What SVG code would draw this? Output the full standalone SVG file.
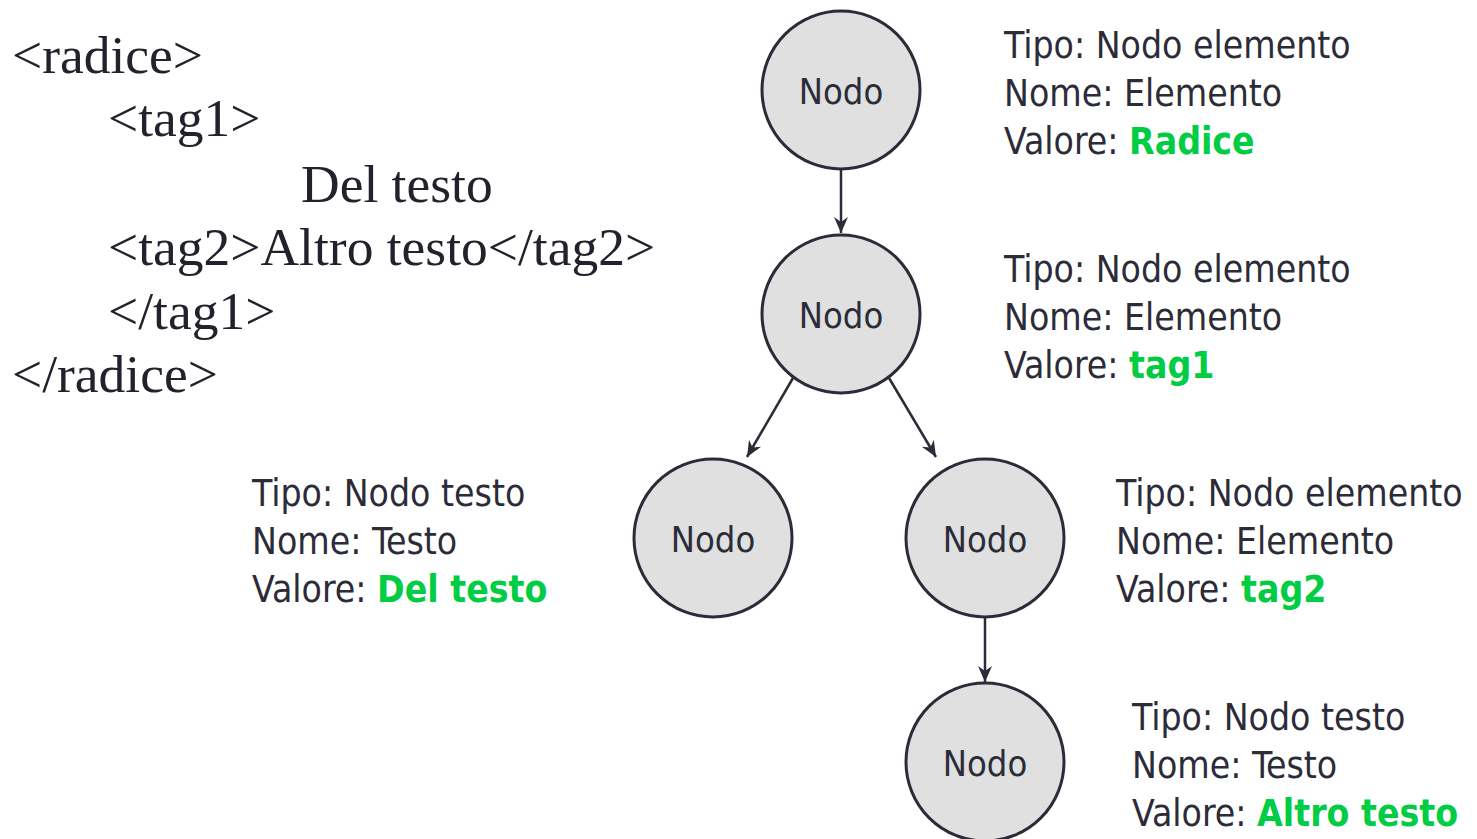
<svg xmlns="http://www.w3.org/2000/svg" width="1477" height="839" viewBox="0 0 1477 839">
  <defs>
    <marker id="arrow" viewBox="0 0 18 16" refX="17" refY="8" markerWidth="18" markerHeight="16" markerUnits="userSpaceOnUse" orient="auto">
      <path d="M1,1 L17,8 L1,15 L6,8 Z" fill="#2b2c38"/>
    </marker>
  </defs>
  <style>
    .code { font-family: "Liberation Serif", "Times New Roman", serif; font-size: 53.5px; fill: #22222c; }
    .node circle { fill: #e0e0e0; stroke: #2b2c38; stroke-width: 3; }
    .node text { font-family: "DejaVu Sans", Verdana, sans-serif; font-stretch: condensed; font-size: 36px; fill: #2b2c38; text-anchor: middle; }
    .info { font-family: "DejaVu Sans", Verdana, sans-serif; font-stretch: condensed; font-size: 37px; fill: #2b2c38; }
    .val { font-weight: bold; fill: #00cc44; }
    .edge { stroke: #2b2c38; stroke-width: 2.5; fill: none; marker-end: url(#arrow); }
  </style>
  <rect width="1477" height="839" fill="#ffffff"/>

  <!-- XML source -->
  <g id="source">
    <text class="code" x="12" y="73">&lt;radice&gt;</text>
    <text class="code" x="108" y="136">&lt;tag1&gt;</text>
    <text class="code" x="301" y="202">Del testo</text>
    <text class="code" x="108" y="265">&lt;tag2&gt;Altro testo&lt;/tag2&gt;</text>
    <text class="code" x="108" y="329">&lt;/tag1&gt;</text>
    <text class="code" x="12" y="392">&lt;/radice&gt;</text>
  </g>

  <!-- connectors -->
  <g id="edges">
    <line class="edge" x1="841" y1="170" x2="841" y2="233"/>
    <line class="edge" x1="793" y1="378" x2="747" y2="457"/>
    <line class="edge" x1="889" y1="378" x2="936" y2="457"/>
    <line class="edge" x1="985" y1="618" x2="985" y2="682"/>
  </g>

  <!-- nodes -->
  <g id="node-radice" class="node">
    <circle cx="841" cy="90" r="79"/>
    <text x="841" y="104">Nodo</text>
  </g>
  <g id="node-tag1" class="node">
    <circle cx="841" cy="314" r="79"/>
    <text x="841" y="328">Nodo</text>
  </g>
  <g id="node-del-testo" class="node">
    <circle cx="713" cy="538" r="79"/>
    <text x="713" y="552">Nodo</text>
  </g>
  <g id="node-tag2" class="node">
    <circle cx="985" cy="538" r="79"/>
    <text x="985" y="552">Nodo</text>
  </g>
  <g id="node-altro-testo" class="node">
    <circle cx="985" cy="762" r="79"/>
    <text x="985" y="776">Nodo</text>
  </g>

  <!-- node descriptions -->
  <g id="info-radice" class="info">
    <text x="1004" y="58">Tipo: Nodo elemento</text>
    <text x="1004" y="106">Nome: Elemento</text>
    <text x="1004" y="154">Valore: <tspan class="val">Radice</tspan></text>
  </g>
  <g id="info-tag1" class="info">
    <text x="1004" y="282">Tipo: Nodo elemento</text>
    <text x="1004" y="330">Nome: Elemento</text>
    <text x="1004" y="378">Valore: <tspan class="val">tag1</tspan></text>
  </g>
  <g id="info-del-testo" class="info">
    <text x="252" y="506">Tipo: Nodo testo</text>
    <text x="252" y="554">Nome: Testo</text>
    <text x="252" y="602">Valore: <tspan class="val">Del testo</tspan></text>
  </g>
  <g id="info-tag2" class="info">
    <text x="1116" y="506">Tipo: Nodo elemento</text>
    <text x="1116" y="554">Nome: Elemento</text>
    <text x="1116" y="602">Valore: <tspan class="val">tag2</tspan></text>
  </g>
  <g id="info-altro-testo" class="info">
    <text x="1132" y="730">Tipo: Nodo testo</text>
    <text x="1132" y="778">Nome: Testo</text>
    <text x="1132" y="826">Valore: <tspan class="val">Altro testo</tspan></text>
  </g>
</svg>
